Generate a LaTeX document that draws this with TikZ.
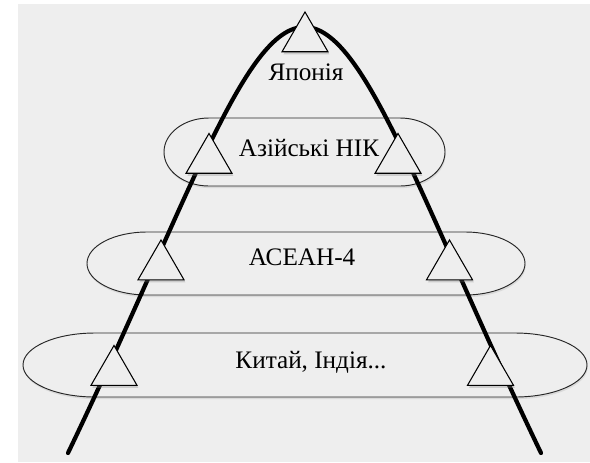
\documentclass[tikz,border=0pt]{standalone}
\usepackage{fontspec}
\setmainfont{Liberation Serif}
\usetikzlibrary{shapes.geometric,shadows}
\definecolor{paper}{HTML}{EEEEEE}
\tikzstyle{band} = [draw=black!85, line width=0.8pt, fill=paper, drop shadow={opacity=0.18, shadow xshift=0.6pt, shadow yshift=-1.8pt}]
\tikzstyle{tri} = [regular polygon, regular polygon sides=3, minimum size=45.3pt, inner sep=0pt, draw=black, line width=0.9pt, fill=paper, drop shadow={opacity=0.3, shadow xshift=1.2pt, shadow yshift=-2.2pt}]
\tikzstyle{lvltext} = [font=\fontsize{21.5}{25}\selectfont, text=black, inner sep=0pt]
\tikzstyle{ridge} = [line width=3.6pt, line cap=round]

\begin{document}
\begin{tikzpicture}[x=0.03cm, y=-0.03cm]
        \useasboundingbox (0,0) rectangle (590,462);
        \fill[white] (0,0) rectangle (590,462);
        \fill[paper] (18,4) rectangle (590,462);
        % bands: left/right/top/bottom/end radius
        \foreach \l/\r/\t/\b/\rx in {164/445/118/186/45, 87/525/232/295/60, 23/587/333/397/72}
            \path[band] (\l+\rx,\t) -- (\r-\rx,\t) arc[start angle=-90, end angle=90, x radius=\rx, y radius=(\b-\t)/2]
                -- (\l+\rx,\b) arc[start angle=90, end angle=270, x radius=\rx, y radius=(\b-\t)/2] -- cycle;
        \coordinate (footL) at (68,453);
        \coordinate (peak) at (304.5,27);
        \coordinate (footR) at (541,453);
        \draw [ridge] (footL) .. controls (188,203) and (244,27) .. (peak) .. controls (365,27) and (421,203) .. (footR);
        \node (japan) [tri] at (305,38.5) {};
        \node (nicL) [tri] at (209,160) {};
        \node (nicR) [tri] at (398,160) {};
        \node (aseanL) [tri] at (161,266.5) {};
        \node (aseanR) [tri] at (449.5,266.5) {};
        \node (chinaL) [tri] at (114,372) {};
        \node (chinaR) [tri] at (490.5,372) {};
        \node (tJapan) [lvltext] at (306,72) {Японія};
        \node (tNic) [lvltext] at (309,148) {Азійські НІК};
        \node (tAsean) [lvltext] at (302,257) {АСЕАН-4};
        \node (tChina) [lvltext] at (311,362) {Китай, Індія...};
    \end{tikzpicture}
\end{document}
